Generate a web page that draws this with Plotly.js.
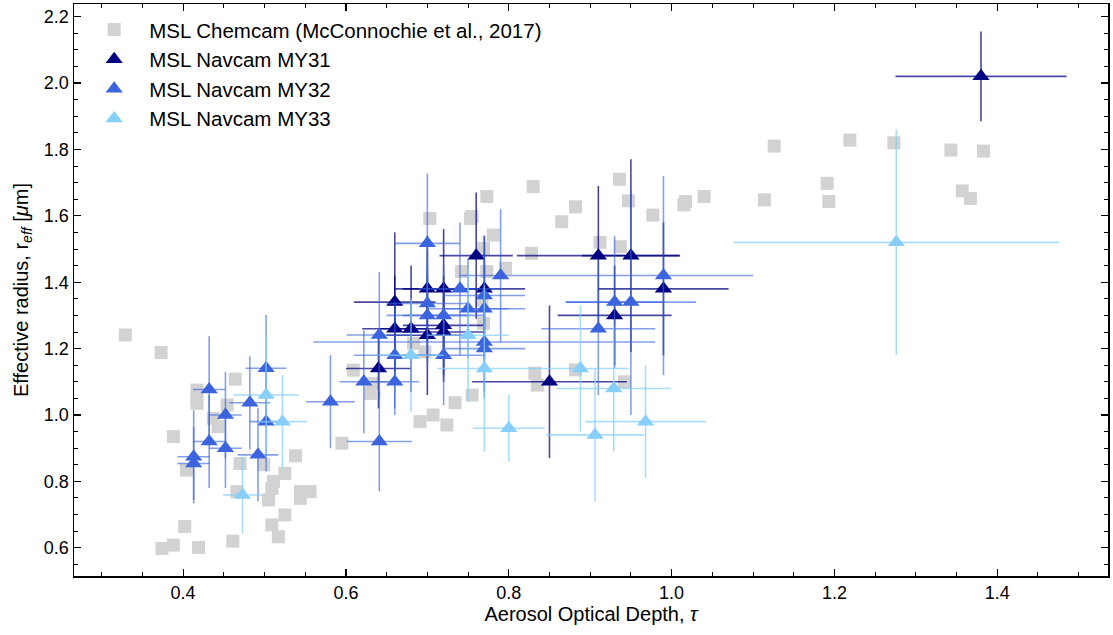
<!DOCTYPE html>
<html><head><meta charset="utf-8">
<script src="https://cdn.plot.ly/plotly-3.0.1.min.js"></script>
<style>html,body{margin:0;padding:0;background:#fff}</style>
</head><body><div id="chart" style="width:1113px;height:635px"></div>
<script>
// MSL Chemcam (McConnochie et al., 2017)
var chem_x = [0.329,0.373,0.464,0.417,0.417,0.417,0.454,0.437,0.443,0.388,0.470,0.499,0.538,0.404,0.466,0.525,0.511,0.509,0.544,0.556,0.505,0.544,0.525,0.509,0.517,0.402,0.388,0.374,0.419,0.461,
  0.595,0.609,0.632,0.630,0.683,0.697,0.691,0.707,0.724,0.734,0.755,0.703,0.753,0.742,0.773,0.796,0.769,0.781,0.755,0.773,0.830,0.882,0.865,0.828,0.767,0.769,0.832,0.835,0.882,
  0.912,0.937,0.936,0.947,0.977,1.015,1.017,1.040,0.942,1.114,1.126,1.219,1.273,1.343,1.383,1.191,1.193,1.357,1.367];
var chem_y = [1.241,1.188,1.108,1.075,1.050,1.035,1.030,0.990,0.965,0.935,0.854,0.850,0.877,0.834,0.769,0.824,0.800,0.779,0.769,0.769,0.744,0.749,0.699,0.669,0.633,0.664,0.608,0.598,0.601,0.620,
  0.915,1.135,1.095,1.065,1.216,1.190,0.980,1.000,0.970,1.037,1.060,1.592,1.592,1.432,1.432,1.442,1.502,1.542,1.598,1.658,1.688,1.627,1.582,1.487,1.346,1.276,1.126,1.090,1.136,
  1.520,1.507,1.710,1.645,1.602,1.633,1.643,1.658,1.100,1.648,1.810,1.828,1.820,1.798,1.795,1.698,1.643,1.675,1.652];

// MSL Navcam MY31
var my31_x    = [0.64,0.66,0.66,0.68,0.70,0.70,0.72,0.72,0.72,0.76,0.77,0.85,0.91,0.95,0.93,0.99,1.38];
var my31_y    = [1.14,1.34,1.26,1.26,1.38,1.24,1.38,1.27,1.25,1.48,1.38,1.10,1.48,1.48,1.30,1.38,2.02];
var my31_xerr = [0.04,0.05,0.04,0.04,0.04,0.05,0.05,0.05,0.05,0.045,0.05,0.095,0.10,0.06,0.07,0.08,0.105];
var my31_yerr = [0.12,0.21,0.16,0.19,0.16,0.18,0.18,0.15,0.15,0.19,0.16,0.23,0.21,0.29,0.15,0.20,0.135];

// MSL Navcam MY32
var my32_x    = [0.413,0.413,0.432,0.432,0.452,0.452,0.482,0.492,0.502,0.502,0.581,0.622,0.641,0.641,0.660,0.660,0.70,0.70,0.70,0.72,0.72,0.74,0.75,0.77,0.77,0.77,0.77,0.79,0.91,0.93,0.95,0.99];
var my32_y    = [0.874,0.854,1.077,0.920,1.000,0.900,1.037,0.880,1.141,0.980,1.040,1.100,1.241,0.920,1.180,1.100,1.517,1.336,1.300,1.300,1.180,1.380,1.320,1.360,1.320,1.220,1.200,1.420,1.260,1.340,1.340,1.420];
var my32_xerr = [0.02,0.02,0.02,0.02,0.02,0.02,0.025,0.025,0.025,0.02,0.03,0.03,0.04,0.04,0.05,0.03,0.04,0.05,0.05,0.05,0.05,0.05,0.05,0.05,0.05,0.21,0.05,0.05,0.07,0.06,0.08,0.11];
var my32_xerr_minus = [0.02,0.02,0.02,0.02,0.02,0.02,0.025,0.025,0.025,0.02,0.03,0.03,0.04,0.04,0.05,0.03,0.04,0.05,0.05,0.05,0.05,0.05,0.05,0.05,0.05,0.21,0.05,0.05,0.07,0.06,0.08,0.15];
var my32_yerr = [0.14,0.11,0.16,0.14,0.13,0.12,0.14,0.14,0.16,0.15,0.14,0.155,0.19,0.15,0.16,0.10,0.21,0.16,0.15,0.15,0.15,0.20,0.15,0.18,0.15,0.15,0.15,0.20,0.20,0.20,0.34,0.30];

// MSL Navcam MY33
var my33_x    = [0.473,0.502,0.522,0.68,0.75,0.77,0.80,0.888,0.906,0.929,0.968,1.276];
var my33_y    = [0.759,1.060,0.980,1.18,1.24,1.14,0.96,1.140,0.940,1.080,0.980,1.520];
var my33_xerr = [0.024,0.04,0.03,0.04,0.05,0.058,0.044,0.06,0.06,0.07,0.074,0.20];
var my33_yerr = [0.115,0.18,0.14,0.17,0.20,0.25,0.10,0.19,0.20,0.19,0.17,0.34];

var names = ['MSL Chemcam (McConnochie et al., 2017)','MSL Navcam MY31','MSL Navcam MY32','MSL Navcam MY33'];

function navTrace(x, y, xe, xem, ye, col, ecol, name, grp) {
  return {
    type: 'scatter', mode: 'markers', x: x, y: y, name: name,
    legendgroup: grp,
    marker: {symbol: 'triangle-up', size: 15, color: col, line: {width: 0}},
    error_x: {type: 'data', array: xe, arrayminus: xem, symmetric: false, color: ecol, thickness: 1.6, width: 0},
    error_y: {type: 'data', array: ye, symmetric: true, color: ecol, thickness: 1.6, width: 0}
  };
}

var traces = [
  {type: 'scatter', mode: 'markers', x: chem_x, y: chem_y, name: names[0], legendgroup: 'g0',
   marker: {symbol: 'square', size: 13, color: '#d2d2d2', line: {width: 0}}},
  navTrace(my31_x, my31_y, my31_xerr, my31_xerr, my31_yerr, '#000080', 'rgba(0,0,128,0.72)', names[1], 'g1'),
  navTrace(my32_x, my32_y, my32_xerr, my32_xerr_minus, my32_yerr, '#3b64dd', 'rgba(59,100,221,0.62)', names[2], 'g2'),
  navTrace(my33_x, my33_y, my33_xerr, my33_xerr, my33_yerr, '#87cefa', 'rgba(135,206,250,0.72)', names[3], 'g3')
];

var axisCommon = {
  showline: true, linecolor: '#000', linewidth: 1.5, mirror: 'allticks',
  ticks: 'inside', ticklen: 7, tickwidth: 1.2, tickcolor: '#000',
  showgrid: false, zeroline: false,
  tickfont: {family: 'Liberation Sans, Arial, sans-serif', size: 18, color: '#000'}
};

var layout = {
  width: 1113, height: 635,
  margin: {l: 74, r: 5, t: 4, b: 59},
  paper_bgcolor: '#fff', plot_bgcolor: '#fff',
  font: {family: 'Liberation Sans, Arial, sans-serif', color: '#000'},
  xaxis: Object.assign({}, axisCommon, {
    range: [0.266, 1.536], tickvals: [0.4,0.6,0.8,1.0,1.2,1.4], ticktext: ['0.4','0.6','0.8','1.0','1.2','1.4'],
    minor: {dtick: 0.05, tick0: 0, ticks: 'inside', ticklen: 4, tickwidth: 1, tickcolor: '#000', showgrid: false},
    title: {text: 'Aerosol Optical Depth, <i>τ</i>', font: {size: 20}, standoff: 0}
  }),
  yaxis: Object.assign({}, axisCommon, {
    range: [0.515, 2.238], tickvals: [0.6,0.8,1.0,1.2,1.4,1.6,1.8,2.0,2.2], ticktext: ['0.6','0.8','1.0','1.2','1.4','1.6','1.8','2.0','2.2'],
    minor: {dtick: 0.05, tick0: 0, ticks: 'inside', ticklen: 4, tickwidth: 1, tickcolor: '#000', showgrid: false},
    title: {text: 'Effective radius, r<sub><i>eff</i></sub> [<i>μ</i>m]', font: {size: 20}, standoff: 10}
  }),
  showlegend: true,
  legend: {x: 0.005, y: 0.99, xanchor: 'left', yanchor: 'top', bgcolor: 'rgba(0,0,0,0)',
    font: {size: 20.5, family: 'Liberation Sans, Arial, sans-serif', color: '#000'},
    traceorder: 'grouped', tracegroupgap: 0, itemwidth: 60}
};

Plotly.newPlot('chart', traces, layout, {displayModeBar: false, staticPlot: true});
</script></body></html>
